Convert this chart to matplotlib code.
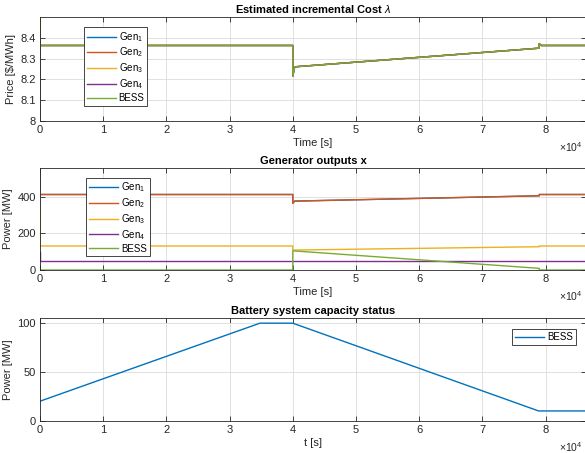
import matplotlib
matplotlib.use("Agg")
import matplotlib.pyplot as plt

plt.rcParams['font.family'] = ['Liberation Sans', 'DejaVu Sans']
plt.rcParams['mathtext.fontset'] = 'custom'
plt.rcParams['mathtext.rm'] = 'Liberation Sans'
plt.rcParams['mathtext.it'] = 'Liberation Sans:italic'
plt.rcParams['mathtext.bf'] = 'Liberation Sans:bold'

# colours (MATLAB default order)
c_gen1 = '#0072BD'
c_gen2 = '#D95319'
c_gen3 = '#EDB120'
c_gen4 = '#7E2F8E'
c_bess = '#77AC30'

# --- incremental cost lambda (all units share it) ---
t_lam = [0, 0, 0, 40000, 40000, 40300, 79000, 79000, 79300, 86400]
lam = [8.0, 8.6, 8.363, 8.363, 8.215, 8.26, 8.35, 8.372, 8.363, 8.363]

# --- generator outputs ---
t_gen = [0, 0, 40000, 40000, 40300, 79000, 79000, 86400]
gen1 = [600, 412, 412, 364, 376, 405, 412, 412]
gen2 = [440, 412, 412, 364, 376, 405, 412, 412]
gen3 = [436, 131, 131, 109, 109, 127, 131, 131]
gen4 = [100, 50, 50, 50, 50, 50, 50, 50]
bess = [0, 0, 0, 104, 104, 9, 0, 0]

# --- battery capacity ---
t_cap = [0, 34800, 40000, 78900, 86400]
cap = [20, 100, 100, 10, 10]

labels = ['Gen$_1$', 'Gen$_2$', 'Gen$_3$', 'Gen$_4$', 'BESS']
colors = [c_gen1, c_gen2, c_gen3, c_gen4, c_bess]

fig = plt.figure(figsize=(5.85, 4.53), dpi=100)
W, H = 585.0, 453.0
left, right = 40 / W, 586 / W

def make_ax(top_px, bot_px):
    return fig.add_axes([left, 1 - bot_px / H, right - left, (bot_px - top_px) / H])

ax1 = make_ax(17.3, 120.7)
ax2 = make_ax(168.3, 270.0)
ax3 = make_ax(318.3, 420.7)

def style(ax):
    ax.set_xlim(0, 86400)
    ax.set_xticks(range(0, 80001, 10000))
    ax.set_xticklabels([str(i) for i in range(9)])
    ax.grid(True, color='#dcdcdc', linewidth=0.6)
    ax.set_axisbelow(True)
    ax.tick_params(direction='in', top=True, right=True, length=3.5,
                   width=0.6, labelsize=8, colors='#262626', pad=3)
    for s in ax.spines.values():
        s.set_color('#262626')
        s.set_linewidth(0.6)
    # exponent label, kept just inside the figure edge
    ax.text(0.994, -0.255, r'$\times$10$^4$', transform=ax.transAxes,
            ha='right', va='center', fontsize=7.5, color='#262626')

lw = 1.0

# top panel
for lab, col in zip(labels, colors):
    ax1.plot(t_lam, lam, color=col, lw=lw, label=lab)
style(ax1)
ax1.set_ylim(8, 8.499)
ax1.set_yticks([8, 8.1, 8.2, 8.3, 8.4])
ax1.set_yticklabels(['8', '8.1', '8.2', '8.3', '8.4'])
ax1.set_title(r'Estimated incremental Cost $\mathit{\lambda}$', fontsize=8,
              fontweight='bold', pad=3)
ax1.set_xlabel('Time [s]', fontsize=8, color='#262626', labelpad=2)
ax1.set_ylabel('Price [$/MWh]', fontsize=8, color='#262626', labelpad=3)

# middle panel
for series, lab, col in zip([gen1, gen2, gen3, gen4, bess], labels, colors):
    ax2.plot(t_gen, series, color=col, lw=lw, label=lab)
style(ax2)
ax2.set_ylim(0, 555)
ax2.set_yticks([0, 200, 400])
ax2.set_title('Generator outputs x', fontsize=8, fontweight='bold', pad=3)
ax2.set_xlabel('Time [s]', fontsize=8, color='#262626', labelpad=2)
ax2.set_ylabel('Power [MW]', fontsize=8, color='#262626', labelpad=3)

# bottom panel
ax3.plot(t_cap, cap, color=c_gen1, lw=lw, label='BESS')
style(ax3)
ax3.set_ylim(0, 105)
ax3.set_yticks([0, 50, 100])
ax3.set_title('Battery system capacity status', fontsize=8, fontweight='bold', pad=3)
ax3.set_xlabel('t [s]', fontsize=8, color='#262626', labelpad=2)
ax3.set_ylabel('Power [MW]', fontsize=8, color='#262626', labelpad=3)

leg_kw = dict(fontsize=7, frameon=True, fancybox=False, framealpha=1,
              edgecolor='#262626', handlelength=3.0, handletextpad=0.3,
              borderpad=0.3, labelspacing=0.2, borderaxespad=0)
l1 = ax1.legend(loc='upper left', bbox_to_anchor=(0.08, 0.906), **leg_kw)
l2 = ax2.legend(loc='upper left', bbox_to_anchor=(0.084, 0.908), **leg_kw)
l3 = ax3.legend(loc='upper right', bbox_to_anchor=(0.982, 0.893), **leg_kw)
for l in (l1, l2, l3):
    l.get_frame().set_linewidth(0.6)

fig.savefig('out.png', dpi=100)
